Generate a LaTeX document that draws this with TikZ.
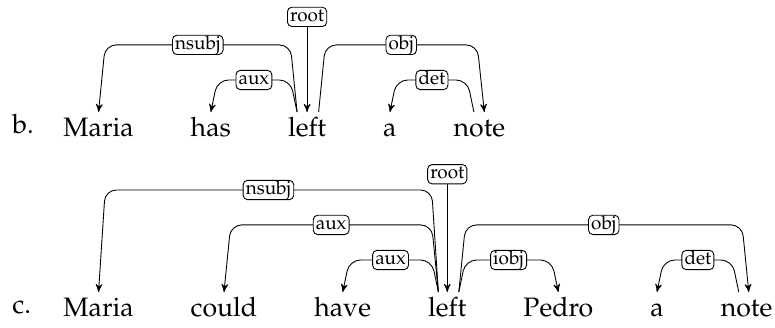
\documentclass[tikz,border=0pt]{standalone}
\usepackage[T1]{fontenc}
\usepackage{mathpazo}
\usepackage{tikz}
\usetikzlibrary{arrows}
\usetikzlibrary{calc}
\usetikzlibrary{positioning}
\tikzstyle{word} = [inner sep=0pt, text height=8.6pt, text depth=0pt,
    font=\fontsize{12}{14}\selectfont]
\tikzstyle{rel} = [draw, fill=white, rounded corners=2pt, inner xsep=1.2pt,
    inner ysep=0.4pt, text height=6pt, text depth=1.9pt,
    font=\fontsize{8.5}{10}\selectfont]
\tikzstyle{dep} = [draw, ->, rounded corners=5pt]

\begin{document}
\begin{tikzpicture}[x=0.45pt, y=0.45pt, node distance=25.3pt, >=stealth']
    \useasboundingbox (0,0) rectangle (775,327);

    % Sentence b: words on one baseline
    \node [word, anchor=base west] at (12,194) (blabel) {b.};
    \node [word, anchor=base west] at (63,191) (bmaria) {Maria};
    \node [word, base right=of bmaria] (bhas) {has};
    \node [word, base right=of bhas] (bleft) {left};
    \node [word, base right=of bleft] (ba) {a};
    \node [word, base right=of ba, node distance=23pt] (bnote) {note};

    % root of b
    \node [rel] at ($(bleft.north)+(0,44.8pt)$) (broot) {root};
    \draw [->] (broot) -- ([yshift=2pt]bleft.north);

    % Arcs of b
    \draw [dep] ([xshift=-4.5pt,yshift=2pt]bleft.north) -- ++(-3pt,30.2pt)
        -- node [rel] {nsubj} ($(bmaria.north)+(3pt,32.2pt)$)
        -- ([yshift=2pt]bmaria.north);
    \draw [dep] ([xshift=-4.5pt,yshift=2pt]bleft.north) -- ++(-3pt,14.4pt)
        -- node [rel] {aux} ($(bhas.north)+(3pt,16.4pt)$)
        -- ([yshift=2pt]bhas.north);
    \draw [dep] ([xshift=5.2pt,yshift=2pt]bleft.north) -- ++(3pt,30.2pt)
        -- node [rel] {obj} ($(bnote.north)+(-1pt,32.2pt)$)
        -- ([xshift=2.2pt,yshift=2pt]bnote.north);
    \draw [dep] ([xshift=-2.5pt,yshift=2pt]bnote.north) -- ++(-3pt,14.4pt)
        -- node [rel] {det} ($(ba.north)+(3pt,16.4pt)$)
        -- ([yshift=2pt]ba.north);

    % Sentence c
    \node [word, anchor=base west] at (12,14) (clabel) {c.};
    \node [word, anchor=base west] at (63,11) (cmaria) {Maria};
    \node [word, base right=of cmaria] (ccould) {could};
    \node [word, base right=of ccould] (chave) {have};
    \node [word, base right=of chave] (cleft) {left};
    \node [word, base right=of cleft] (cpedro) {Pedro};
    \node [word, base right=of cpedro] (ca) {a};
    \node [word, base right=of ca, node distance=23pt] (cnote) {note};

    % root of c
    \node [rel] at ($(cleft.north)+(0,55pt)$) (croot) {root};
    \draw [->] (croot) -- ([yshift=2pt]cleft.north);

    % Arcs of c
    \draw [dep] ([xshift=-4pt,yshift=2pt]cleft.north) -- ++(-3pt,45.9pt)
        -- node [rel] {nsubj} ($(cmaria.north)+(3pt,47.9pt)$)
        -- ([yshift=2pt]cmaria.north);
    \draw [dep] ([xshift=-4pt,yshift=2pt]cleft.north) -- ++(-3pt,30.2pt)
        -- node [rel] {aux} ($(ccould.north)+(3pt,32.2pt)$)
        -- ([yshift=2pt]ccould.north);
    \draw [dep] ([xshift=-4pt,yshift=2pt]cleft.north) -- ++(-3pt,14.4pt)
        -- node [rel] {aux} ($(chave.north)+(3pt,16.4pt)$)
        -- ([yshift=2pt]chave.north);
    \draw [dep] ([xshift=5.2pt,yshift=2pt]cleft.north) -- ++(3pt,30.2pt)
        -- node [rel] {obj} ($(cnote.north)+(-2pt,32.2pt)$)
        -- ([xshift=1pt,yshift=2pt]cnote.north);
    \draw [dep] ([xshift=5.2pt,yshift=2pt]cleft.north) -- ++(3pt,14.4pt)
        -- node [rel] {iobj} ($(cpedro.north)+(-3pt,16.4pt)$)
        -- ([yshift=2pt]cpedro.north);
    \draw [dep] ([xshift=-3.5pt,yshift=2pt]cnote.north) -- ++(-3pt,14.4pt)
        -- node [rel] {det} ($(ca.north)+(3pt,16.4pt)$)
        -- ([yshift=2pt]ca.north);
\end{tikzpicture}
\end{document}
